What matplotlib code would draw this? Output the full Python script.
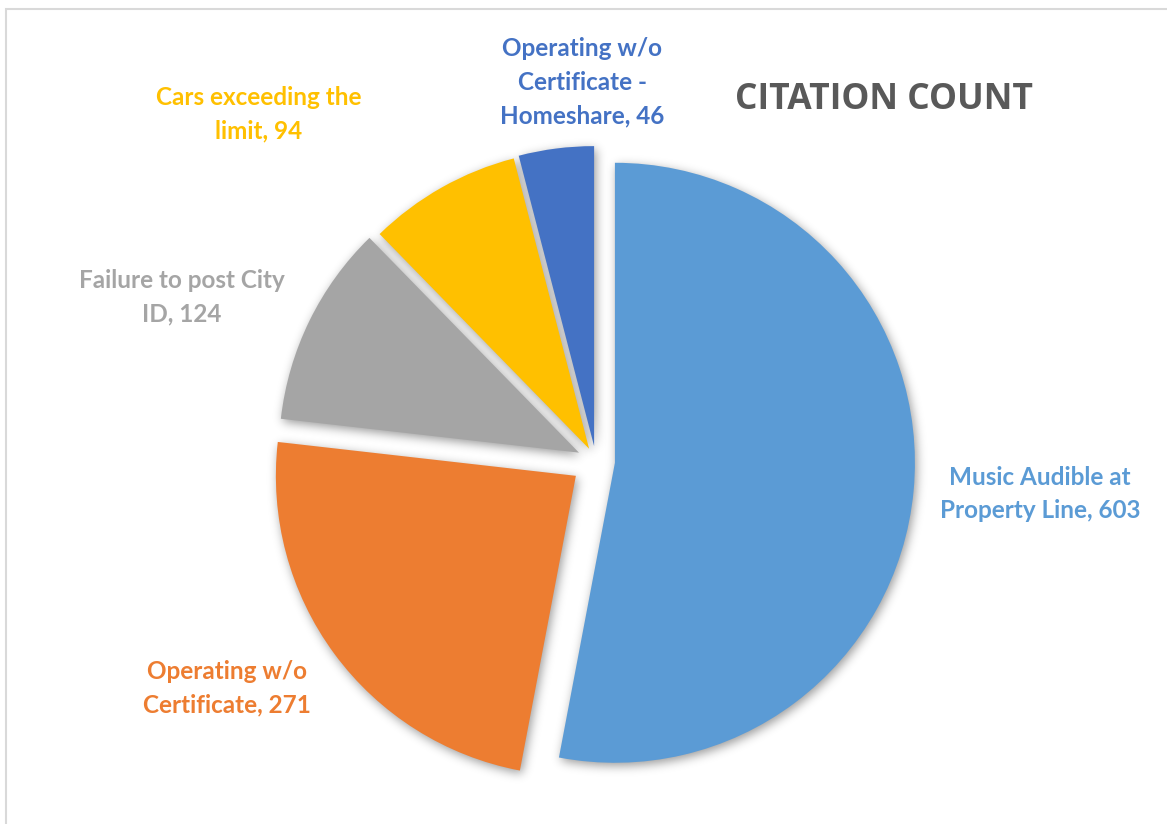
import matplotlib
matplotlib.use("Agg")
import matplotlib.pyplot as plt
from matplotlib.patches import Rectangle
import numpy as np

categories = ["Music Audible at\nProperty Line", "Operating w/o\nCertificate",
              "Failure to post City\nID", "Cars exceeding the\nlimit",
              "Operating w/o\nCertificate -\nHomeshare"]
counts = [603, 271, 124, 94, 46]
colors = ["#5B9BD5", "#ED7D31", "#A5A5A5", "#FFC000", "#4472C4"]
title = "CITATION COUNT"

W, H = 1167, 824
# label anchor points in pixel coords (x, y from top)
label_pos = [(1040, 494), (227, 688), (182, 297), (259, 114), (582, 82)]
explode = [19, 25, 19, 14, 15]


def gauss_blur(a, sigma):
    r = int(3 * sigma)
    x = np.arange(-r, r + 1)
    k = np.exp(-x ** 2 / (2 * sigma ** 2))
    k /= k.sum()
    a = np.apply_along_axis(lambda v: np.convolve(v, k, mode="same"), 0, a)
    a = np.apply_along_axis(lambda v: np.convolve(v, k, mode="same"), 1, a)
    return a


def shadow_filter(im, dpi):
    pad = 24
    h, w, _ = im.shape
    out = np.zeros((h + 2 * pad, w + 2 * pad, 4))
    alpha = np.zeros((h + 2 * pad, w + 2 * pad))
    alpha[pad:pad + h, pad:pad + w] = im[..., 3]
    out[..., 3] = gauss_blur(alpha, 5) * 0.4
    return out, -pad + 2, -pad - 3


fig = plt.figure(figsize=(W / 100, H / 100), dpi=100)
ax = fig.add_axes([0, 0, 1, 1])

fig.patches.append(Rectangle((6 / W, -0.1), 1.2, (H - 9) / H + 0.1, transform=fig.transFigure,
                             fill=False, edgecolor="#D9D9D9", linewidth=1.5))

center = (596, H - 461)
# shadow layer
sw, _ = ax.pie(counts, radius=300, center=center, startangle=90, counterclock=False,
               explode=explode, colors=["black"] * len(counts), frame=True)
for w in sw:
    w.set_agg_filter(shadow_filter)
    w.set_zorder(1)

wedges, _ = ax.pie(counts, radius=300, center=center, startangle=90, counterclock=False,
                   explode=explode, colors=colors, frame=True)
for w in wedges:
    w.set_zorder(2)

ax.set_xlim(0, W)
ax.set_ylim(0, H)
ax.set_aspect("equal")
ax.axis("off")

for cat, n, c, (px, py) in zip(categories, counts, colors, label_pos):
    ax.text(px, H - py, f"{cat}, {n}", color=c, ha="center", va="center",
            fontsize=17.5, fontweight="bold", family="Lato", linespacing=1.55, zorder=5)

ax.text(884, H - 100, title, color="#595959", ha="center", va="center",
        fontsize=25.5, fontweight="bold", family="Open Sans", zorder=5)

fig.savefig("out.png", dpi=100)
